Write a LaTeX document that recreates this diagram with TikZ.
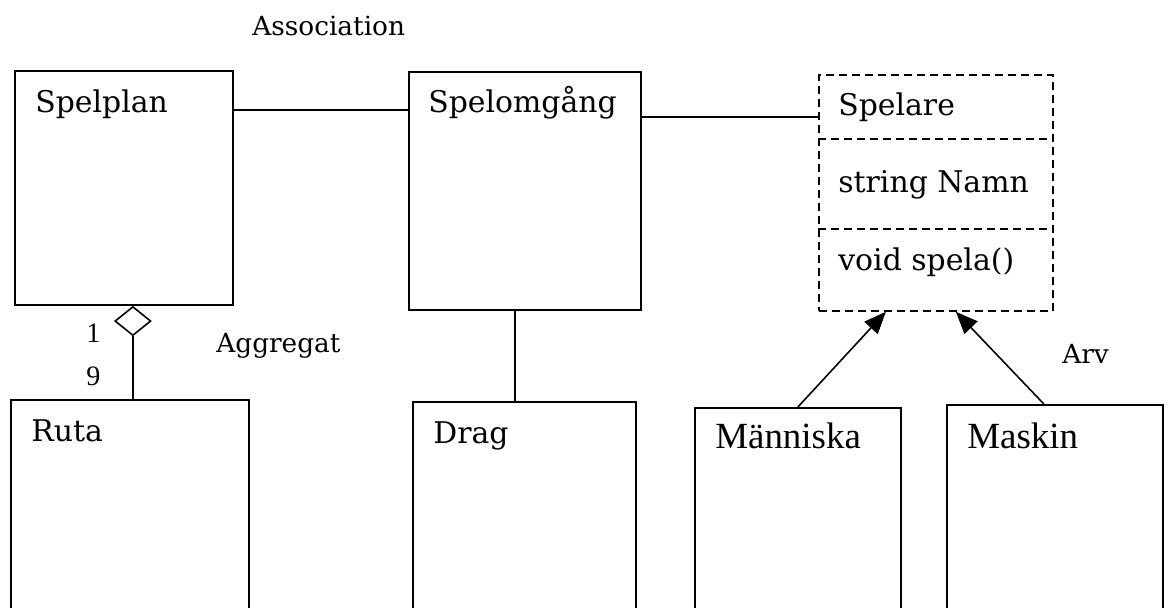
\documentclass[tikz,border=0pt]{standalone}
\usepackage{fontspec}
\setmainfont{DejaVu Serif}
\newfontfamily\timesfont{Liberation Serif}
\usetikzlibrary{arrows.meta,positioning,shapes.geometric}

\begin{document}
\begin{tikzpicture}[
  cls/.style={draw, line width=1pt, anchor=north west, inner sep=0pt},
  iface/.style={cls, dash pattern=on 0.16cm off 0.1cm},
  sep/.style={line width=1pt, dash pattern=on 0.16cm off 0.1cm},
  title/.style={anchor=base west, inner sep=0pt, font=\fontsize{17}{20}\selectfont},
  ttitle/.style={anchor=base west, inner sep=0pt, font=\timesfont\fontsize{21}{24}\selectfont},
  note/.style={anchor=base west, inner sep=0pt, font=\fontsize{15}{18}\selectfont},
  agg/.style={draw, diamond, line width=0.9pt, minimum width=0.72cm, minimum height=0.58cm, inner sep=0pt, anchor=north},
  assoc/.style={line width=1pt},
  arv/.style={-{Triangle[length=0.44cm,width=0.36cm]}, line width=0.9pt}
]
  \useasboundingbox (0,0) rectangle (23.28,-12.14);
  \clip (0,0) rectangle (23.28,-12.14);

  % upper row
  \node[cls, minimum width=4.36cm, minimum height=4.68cm] (spelplan) at (0.28,-1.40) {};
  \node[cls, minimum width=4.64cm, minimum height=4.76cm] (spelomgang) at (8.16,-1.42) {};
  \node[iface, minimum width=4.68cm, minimum height=4.72cm] (spelare) at (16.36,-1.48) {};
  \draw[sep] ([yshift=-1.30cm]spelare.north west) -- ([yshift=-1.30cm]spelare.north east);
  \draw[sep] ([yshift=-3.10cm]spelare.north west) -- ([yshift=-3.10cm]spelare.north east);

  % lower row, cut off at the bottom
  \node[cls, minimum width=4.76cm, minimum height=4.50cm] (ruta) at (0.20,-7.98) {};
  \node[cls, minimum width=4.46cm, minimum height=4.50cm] (drag) at (8.24,-8.02) {};
  \node[cls, minimum width=4.12cm, minimum height=4.40cm] (manniska) at (13.88,-8.14) {};
  \node[cls, minimum width=4.32cm, minimum height=4.40cm] (maskin) at (18.92,-8.08) {};

  \node[title] (spelplantxt) at ([shift={(0.42,-0.84)}]spelplan.north west) {Spelplan};
  \node[title] (spelomgangtxt) at ([shift={(0.40,-0.82)}]spelomgang.north west) {Spelomgång};
  \node[title] (spelaretxt) at ([shift={(0.40,-0.82)}]spelare.north west) {Spelare};
  \node[title] (namntxt) at ([shift={(0.40,-2.36)}]spelare.north west) {string Namn};
  \node[title] (spelatxt) at ([shift={(0.40,-3.92)}]spelare.north west) {void spela()};
  \node[title] (rutatxt) at ([shift={(0.42,-0.84)}]ruta.north west) {Ruta};
  \node[title] (dragtxt) at ([shift={(0.42,-0.84)}]drag.north west) {Drag};
  \node[ttitle] (manniskatxt) at ([shift={(0.42,-0.82)}]manniska.north west) {Människa};
  \node[ttitle] (maskintxt) at ([shift={(0.42,-0.88)}]maskin.north west) {Maskin};

  \node[note] (assoctxt) at (5.04,-0.70) {Association};
  \node[note] (aggtxt) at (4.32,-7.04) {Aggregat};
  \node[note] (arvtxt) at (21.24,-7.26) {Arv};
  \node[anchor=base west, inner sep=0pt, font=\timesfont\fontsize{16}{18}\selectfont] (multa) at (1.72,-6.84) {1};
  \node[anchor=base west, inner sep=0pt, font=\timesfont\fontsize{16}{18}\selectfont] (multb) at (1.72,-7.70) {9};

  % associations
  \draw[assoc] ([yshift=-0.80cm]spelplan.north east) -- ([yshift=-0.78cm]spelomgang.north west);
  \draw[assoc] ([yshift=-0.92cm]spelomgang.north east) -- ([yshift=-0.86cm]spelare.north west);
  \draw[assoc] ([xshift=-0.20cm]spelomgang.south) -- ([xshift=-0.20cm]spelomgang.south |- drag.north);

  % aggregate
  \node[agg] (diam) at ([xshift=0.18cm]spelplan.south) {};
  \draw[assoc] (diam.south) -- (diam.south |- ruta.north);

  % inheritance
  \draw[arv] (manniska.north) -- ([xshift=-1.00cm]spelare.south);
  \draw[arv] ([xshift=-0.22cm]maskin.north) -- ([xshift=0.40cm]spelare.south);
\end{tikzpicture}
\end{document}
